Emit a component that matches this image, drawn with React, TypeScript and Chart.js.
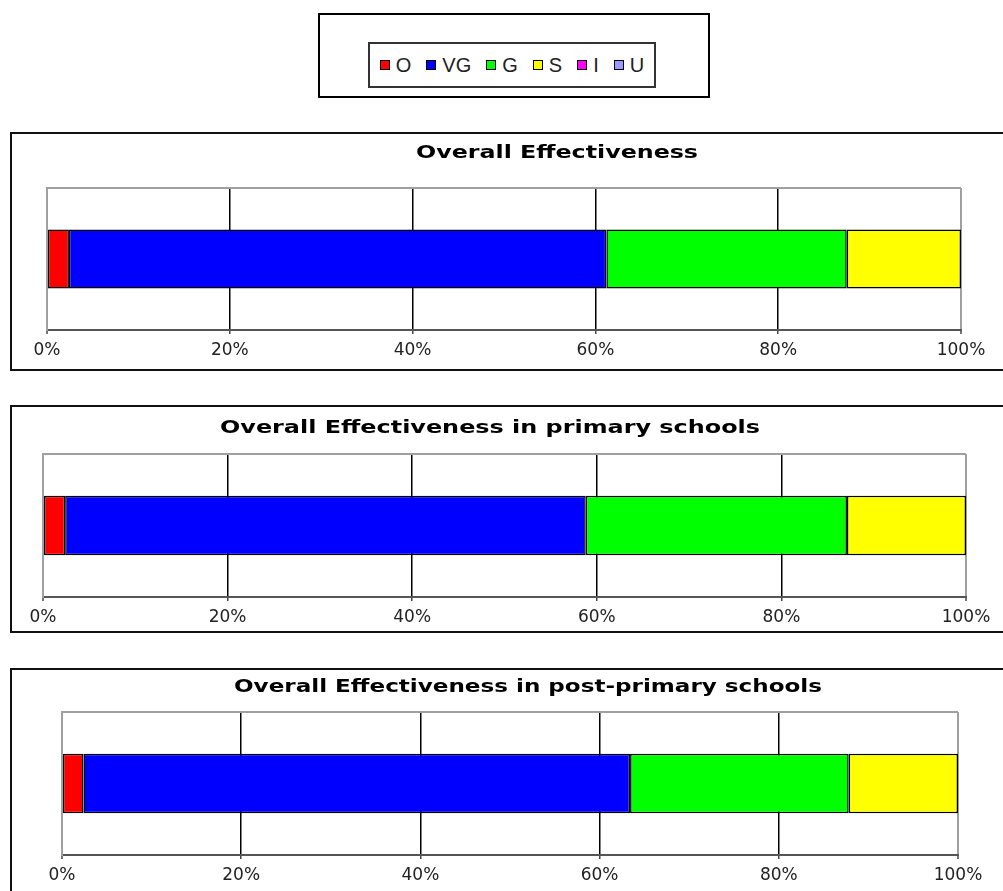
import React, { useEffect, useRef } from 'react';
import { Chart, registerables } from 'chart.js';

Chart.register(...registerables);

// Inspection grades, one stacked bar per panel
const panelTitles = [
  'Overall Effectiveness',
  'Overall Effectiveness in primary schools',
  'Overall Effectiveness in post-primary schools',
];
const seriesNames = ['O', 'VG', 'G', 'S', 'I', 'U'];
const seriesColors = ['#FF0000', '#0000FF', '#00FF00', '#FFFF00', '#FF00FF', '#9999FF'];
const outstanding = [2.4, 2.4, 2.4];
const veryGood = [58.8, 56.4, 61.0];
const good = [26.3, 28.3, 24.4];
const satisfactory = [12.5, 12.9, 12.2];
const inadequate = [0, 0, 0];
const unsatisfactory = [0, 0, 0];
const percentTicks = [0, 20, 40, 60, 80, 100];

const seriesValues = [outstanding, veryGood, good, satisfactory, inadequate, unsatisfactory];

// Page geometry of each framed panel
const frames = [
  { boxTop: 132, boxHeight: 239, canvasTop: 134, canvasHeight: 238, pad: { top: 54, left: 47, right: 42, bottom: 5.6 }, titleX: 557, titleBaseline: 24, titleWidth: 282 },
  { boxTop: 405, boxHeight: 228, canvasTop: 407, canvasHeight: 228, pad: { top: 47, left: 43, right: 37, bottom: 1.6 }, titleX: 490, titleBaseline: 26, titleWidth: 540 },
  { boxTop: 668, boxHeight: 300, canvasTop: 670, canvasHeight: 228, pad: { top: 42, left: 62, right: 45, bottom: 6.6 }, titleX: 528, titleBaseline: 22, titleWidth: 588 },
];

const CANVAS_WIDTH = 1003;

// Draws the bold panel heading, widened to the heading's set width
const panelTitlePlugin = {
  id: 'panelTitle',
  afterDraw(chart: any, _args: any, opts: any) {
    if (!opts || !opts.text) return;
    const ctx = chart.ctx as CanvasRenderingContext2D;
    ctx.save();
    ctx.font = `bold ${opts.size}px ${opts.family}`;
    ctx.fillStyle = opts.color;
    ctx.textAlign = 'center';
    ctx.textBaseline = 'alphabetic';
    const measured = ctx.measureText(opts.text).width;
    const sx = opts.width ? opts.width / measured : 1;
    ctx.translate(opts.x, opts.y);
    ctx.scale(sx, 1);
    ctx.fillText(opts.text, 0, 0);
    ctx.restore();
  },
};

function Panel({ index }: { index: number }) {
  const ref = useRef<HTMLCanvasElement | null>(null);
  const frame = frames[index];

  useEffect(() => {
    if (!ref.current) return;
    const datasets = seriesNames.map((name, s) => ({
      label: name,
      data: [seriesValues[s][index]],
      backgroundColor: seriesColors[s],
      borderColor: '#000000',
      borderWidth: 1.5,
      borderSkipped: false as const,
      barPercentage: 0.415,
      categoryPercentage: 1,
    }));

    const chart = new Chart(ref.current, {
      type: 'bar',
      data: { labels: [''], datasets },
      plugins: [panelTitlePlugin],
      options: {
        indexAxis: 'y',
        responsive: false,
        animation: false,
        devicePixelRatio: 1,
        layout: { padding: frame.pad },
        scales: {
          x: {
            type: 'linear',
            position: 'bottom',
            stacked: true,
            min: 0,
            max: 100,
            afterBuildTicks: (scale: any) => {
              scale.ticks = percentTicks.map((v) => ({ value: v }));
            },
            ticks: {
              padding: 6,
              color: '#222222',
              font: { family: "'DejaVu Sans', Verdana, sans-serif", size: 17 },
              callback: (v: any) => `${v}%`,
            },
            grid: {
              color: (ctx: any) =>
                ctx.tick && (ctx.tick.value === 0 || ctx.tick.value === 100) ? '#a0a0a0' : '#000000',
              lineWidth: (ctx: any) =>
                ctx.tick && (ctx.tick.value === 0 || ctx.tick.value === 100) ? 2 : 1.5,
              tickLength: 4,
              tickColor: '#444444',
              tickWidth: 1.5,
            },
            border: { display: true, color: '#555555', width: 2 },
          },
          y: {
            type: 'category',
            stacked: true,
            ticks: { display: false },
            grid: {
              color: (ctx: any) => (ctx.index === 0 ? '#a0a0a0' : 'rgba(0,0,0,0)'),
              lineWidth: 2,
              drawTicks: false,
            },
            border: { display: true, color: '#a0a0a0', width: 2 },
          },
        },
        plugins: {
          legend: { display: false },
          tooltip: { enabled: false },
          title: { display: false },
          panelTitle: {
            text: panelTitles[index],
            x: frame.titleX,
            y: frame.titleBaseline,
            width: frame.titleWidth,
            size: 18,
            family: "'DejaVu Sans', Verdana, sans-serif",
            color: '#000000',
          },
        } as any,
      },
    });
    return () => chart.destroy();
  }, [index]);

  return (
    <>
      <div
        style={{
          position: 'absolute',
          left: 10,
          top: frame.boxTop,
          width: 1100,
          height: frame.boxHeight,
          border: '2px solid #111',
          boxSizing: 'border-box',
        }}
      />
      <canvas
        ref={ref}
        width={CANVAS_WIDTH}
        height={frame.canvasHeight}
        style={{
          position: 'absolute',
          left: 0,
          top: frame.canvasTop,
          width: CANVAS_WIDTH,
          height: frame.canvasHeight,
        }}
      />
    </>
  );
}

function Legend() {
  return (
    <>
      <div
        style={{
          position: 'absolute',
          left: 318,
          top: 13,
          width: 392,
          height: 85,
          border: '2px solid #000',
          boxSizing: 'border-box',
        }}
      />
      <div
        style={{
          position: 'absolute',
          left: 368,
          top: 42,
          width: 288,
          height: 46,
          border: '2px solid #333',
          boxSizing: 'border-box',
          display: 'flex',
          alignItems: 'center',
          justifyContent: 'center',
          gap: 15,
          fontFamily: "'Liberation Sans', Arial, sans-serif",
          fontSize: 20,
          color: '#222',
        }}
      >
        {seriesNames.map((name, s) => (
          <div key={name} style={{ display: 'flex', alignItems: 'center' }}>
            <span
              style={{
                display: 'inline-block',
                width: 10,
                height: 10,
                boxSizing: 'border-box',
                border: '1px solid #000',
                background: seriesColors[s],
                marginRight: 6,
              }}
            />
            <span>{name}</span>
          </div>
        ))}
      </div>
    </>
  );
}

export default function App() {
  return (
    <div
      style={{
        position: 'fixed',
        left: 0,
        top: 0,
        width: 1003,
        height: 891,
        overflow: 'hidden',
        background: '#fff',
      }}
    >
      <Legend />
      {frames.map((_, i) => (
        <Panel key={i} index={i} />
      ))}
    </div>
  );
}
